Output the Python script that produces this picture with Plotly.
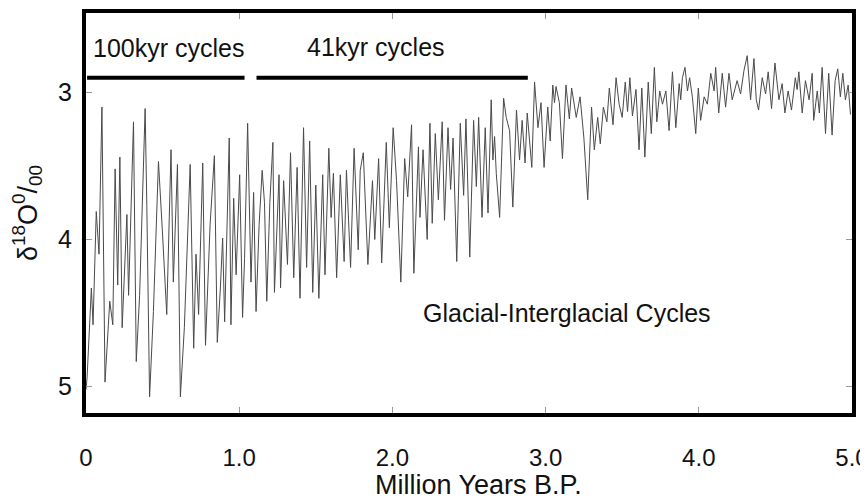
import plotly.graph_objects as go

# Benthic d18O stack (turning points), age in Myr B.P.
age_myr = [
    0.000, 0.007, 0.035, 0.046, 0.067, 0.085, 0.104, 0.124, 0.155, 0.175,
    0.190, 0.207, 0.221, 0.236, 0.267, 0.278, 0.310, 0.328, 0.350, 0.386,
    0.397, 0.415, 0.440, 0.473, 0.500, 0.527, 0.555, 0.570, 0.597, 0.616,
    0.642, 0.680, 0.703, 0.718, 0.735, 0.762, 0.780, 0.810, 0.838, 0.857,
    0.877, 0.892, 0.905, 0.920, 0.935, 0.946, 0.964, 0.980, 1.003, 1.022,
    1.035, 1.055, 1.077, 1.094, 1.110, 1.130, 1.150, 1.165, 1.180, 1.200,
    1.220, 1.230, 1.250, 1.260, 1.270, 1.290, 1.315, 1.335, 1.356, 1.378,
    1.397, 1.420, 1.440, 1.460, 1.480, 1.500, 1.520, 1.545, 1.560, 1.585,
    1.600, 1.615, 1.636, 1.660, 1.685, 1.700, 1.727, 1.750, 1.777, 1.790,
    1.810, 1.840, 1.870, 1.885, 1.910, 1.930, 1.960, 1.980, 2.005, 2.027,
    2.055, 2.080, 2.100, 2.125, 2.140, 2.170, 2.180, 2.200, 2.227, 2.245,
    2.260, 2.280, 2.300, 2.325, 2.340, 2.363, 2.380, 2.396, 2.420, 2.443,
    2.465, 2.480, 2.505, 2.530, 2.548, 2.563, 2.585, 2.606, 2.624, 2.645,
    2.656, 2.667, 2.678, 2.700, 2.726, 2.743, 2.765, 2.786, 2.810, 2.830,
    2.847, 2.866, 2.880, 2.910, 2.928, 2.950, 2.970, 2.990, 3.014, 3.030,
    3.047, 3.058, 3.068, 3.090, 3.110, 3.133, 3.155, 3.170, 3.200, 3.225,
    3.250, 3.275, 3.300, 3.318, 3.340, 3.357, 3.377, 3.400, 3.416, 3.440,
    3.460, 3.480, 3.500, 3.520, 3.535, 3.550, 3.567, 3.590, 3.610, 3.628,
    3.648, 3.670, 3.690, 3.710, 3.726, 3.745, 3.763, 3.785, 3.806, 3.828,
    3.850, 3.872, 3.882, 3.893, 3.910, 3.926, 3.940, 3.958, 3.980, 3.997,
    4.012, 4.035, 4.056, 4.078, 4.100, 4.110, 4.130, 4.153, 4.175, 4.197,
    4.218, 4.240, 4.250, 4.273, 4.295, 4.316, 4.338, 4.360, 4.375, 4.390,
    4.414, 4.436, 4.453, 4.475, 4.497, 4.523, 4.544, 4.562, 4.583, 4.605,
    4.630, 4.642, 4.653, 4.675, 4.696, 4.720, 4.740, 4.750, 4.773, 4.787,
    4.805, 4.827, 4.848, 4.870, 4.890, 4.907, 4.924, 4.940, 4.957, 4.975,
    4.990,
]
d18o = [
    5.02, 4.94, 4.33, 4.58, 3.81, 4.10, 3.10, 4.97, 4.42, 4.58,
    3.52, 4.31, 3.44, 4.60, 3.83, 4.38, 3.20, 4.83, 4.38, 3.11,
    3.77, 5.07, 4.49, 3.47, 3.97, 4.51, 3.39, 4.29, 3.49, 5.07,
    4.60, 3.49, 4.74, 4.10, 4.51, 3.48, 4.72, 3.90, 3.43, 4.70,
    4.33, 3.99, 4.56, 3.88, 3.31, 4.58, 3.72, 4.24, 3.56, 4.53,
    4.13, 3.21, 4.29, 3.68, 4.49, 3.90, 3.53, 3.75, 4.42, 3.75,
    3.34, 4.36, 3.81, 3.56, 4.33, 3.60, 4.17, 3.41, 4.26, 3.51,
    4.40, 3.24, 4.19, 3.33, 4.36, 3.63, 4.40, 3.56, 4.24, 3.38,
    3.85, 3.55, 4.26, 3.56, 4.15, 3.53, 4.19, 3.38, 4.07, 3.53,
    3.41, 4.17, 3.60, 4.00, 3.45, 4.16, 3.34, 3.92, 3.24, 3.60,
    4.29, 3.45, 3.71, 3.22, 4.23, 3.37, 3.85, 3.39, 4.00, 3.21,
    3.89, 3.28, 3.73, 3.20, 3.87, 3.24, 3.66, 3.31, 4.15, 3.21,
    3.70, 3.18, 4.12, 3.19, 3.64, 3.17, 3.85, 3.24, 3.82, 3.05,
    3.46, 3.30, 3.55, 3.85, 3.04, 3.17, 3.26, 3.78, 3.12, 3.46,
    3.19, 3.48, 3.14, 3.51, 2.93, 3.24, 3.07, 3.51, 3.10, 3.33,
    2.95, 3.07, 2.96, 3.07, 3.45, 2.95, 3.18, 2.97, 3.17, 3.03,
    3.31, 3.73, 3.10, 3.39, 3.17, 3.35, 3.10, 3.20, 2.97, 3.22,
    2.90, 3.08, 3.17, 2.93, 3.13, 2.90, 3.16, 2.98, 3.39, 2.97,
    3.44, 2.93, 3.28, 2.83, 3.20, 2.99, 3.08, 2.99, 3.26, 2.86,
    3.24, 2.94, 3.05, 2.90, 2.83, 2.99, 2.90, 3.03, 3.28, 2.97,
    3.19, 3.03, 3.08, 2.87, 2.99, 2.83, 3.14, 2.87, 3.10, 2.87,
    3.05, 2.97, 2.92, 3.01, 2.85, 2.75, 3.05, 2.77, 3.05, 3.12,
    2.90, 3.01, 2.86, 3.11, 2.80, 3.05, 2.94, 3.14, 2.99, 3.12,
    2.90, 2.98, 2.86, 3.14, 2.92, 3.05, 2.87, 3.19, 2.99, 3.14,
    2.83, 3.28, 2.87, 3.29, 2.92, 2.84, 3.03, 2.87, 3.05, 2.95,
    3.15,
]

x_tickvals = [0, 1, 2, 3, 4, 5]
x_ticktext = ["0", "1.0", "2.0", "3.0", "4.0", "5.0"]
y_tickvals = [3, 4, 5]
y_ticktext = ["3", "4", "5"]
x_title = "Million Years B.P."
y_title = "δ<sup>18</sup>O<sup>0</sup>/<sub>00</sub>"

# regime bars and labels
regime_labels = ["100kyr cycles", "41kyr cycles"]
regime_label_x = [0.54, 1.89]
regime_label_y = [2.70, 2.69]
regime_start = [0.007, 1.113]
regime_end = [1.035, 2.884]
regime_bar_y = 2.90
main_label = "Glacial-Interglacial Cycles"
main_label_x = 3.14
main_label_y = 4.50

FONT = "Liberation Sans, Arial, Helvetica, sans-serif"

fig = go.Figure()
fig.add_trace(go.Scatter(
    x=age_myr, y=d18o, mode="lines",
    line=dict(color="#4a4a4a", width=1),
    showlegend=False, hoverinfo="x+y",
))

for s, e in zip(regime_start, regime_end):
    fig.add_shape(type="line", xref="x", yref="y", x0=s, x1=e,
                  y0=regime_bar_y, y1=regime_bar_y,
                  line=dict(color="black", width=4))

annotations = []
for t, ax_, ay_ in zip(regime_labels, regime_label_x, regime_label_y):
    annotations.append(dict(text=t, x=ax_, y=ay_, xref="x", yref="y",
                            showarrow=False, font=dict(family=FONT, size=25, color="#111")))
annotations.append(dict(text=main_label, x=main_label_x, y=main_label_y,
                        xref="x", yref="y", showarrow=False,
                        font=dict(family=FONT, size=25, color="#111")))
# x-axis title placed at the bottom of the page, just under the tick labels
annotations.append(dict(text=x_title, x=0.512, y=-0.2225, xref="paper", yref="paper",
                        xanchor="center", yanchor="bottom", showarrow=False,
                        font=dict(family=FONT, size=27, color="#111")))

# page body adds an 8px margin; size the figure so the page is 868x504
fig.update_layout(
    width=860, height=496,
    margin=dict(l=78, r=16, t=5, b=91),
    paper_bgcolor="white", plot_bgcolor="white",
    font=dict(family=FONT, color="#111"),
    annotations=annotations,
    xaxis=dict(
        range=[0, 5], tickvals=x_tickvals, ticktext=x_ticktext,
        ticks="inside", ticklen=6, tickwidth=1, tickcolor="#999",
        showline=True, linewidth=4, linecolor="black", mirror="allticks",
        showgrid=False, zeroline=False, automargin=False,
        tickfont=dict(family=FONT, size=24, color="#111"),
        ticklabelstandoff=20, ticklabeloverflow="allow",
    ),
    yaxis=dict(
        range=[5.18, 2.46], tickvals=y_tickvals, ticktext=y_ticktext,
        ticks="inside", ticklen=6, tickwidth=1, tickcolor="#999",
        showline=True, linewidth=4, linecolor="black", mirror="allticks",
        showgrid=False, zeroline=False, automargin=False,
        tickfont=dict(family=FONT, size=25, color="#111"),
        ticklabelstandoff=5,
        title=dict(text=y_title, font=dict(family=FONT, size=27, color="#111"), standoff=14),
    ),
)

fig.write_html("out.html")
